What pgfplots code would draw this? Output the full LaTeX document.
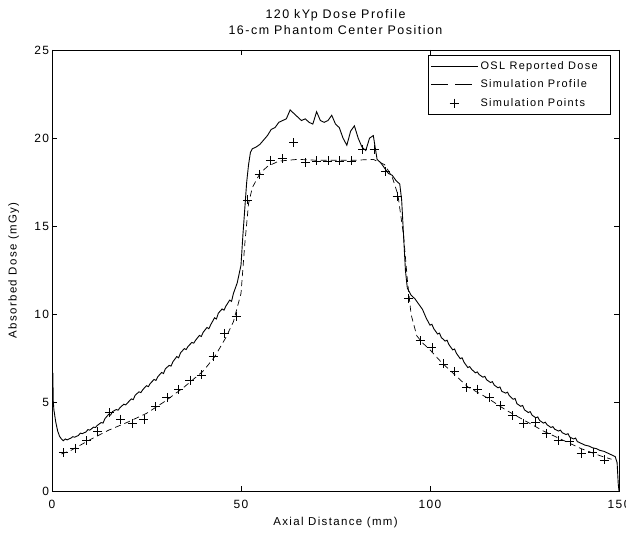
\documentclass[border=0pt]{standalone}
\usepackage{fontspec}
\setmainfont{Liberation Sans}[LetterSpace=12]
\usepackage{pgfplots}
\pgfplotsset{compat=1.18}
\pgfplotsset{
  legsolid/.style={legend image code/.code={\draw[##1] (-2bp,0bp) -- (45bp,0bp);}},
  legdash/.style={legend image code/.code={\draw[##1, dash pattern=on 17bp off 7bp] (-2bp,0bp) -- (45bp,0bp);}},
  legmark/.style={legend image code/.code={\draw[##1] plot coordinates {(21bp,0bp)};}},
}
\begin{document}
\fontsize{11}{13}\selectfont
\begin{tikzpicture}
\begin{axis}[
  scale only axis,
  width=567bp, height=441bp,
  xmin=0, xmax=150, ymin=0, ymax=25,
  xtick={0,50,100,150}, ytick={0,5,10,15,20,25},
  tick align=inside,
  major tick length=5bp,
  axis line style={line width=0.8bp},
  tick style={line width=0.6bp, black},
  /pgf/number format/assume math mode=true,
  tick label style={font=\fontsize{12}{14}\selectfont},
  xticklabel style={yshift=-5bp},
  yticklabel style={xshift=1bp},
  xlabel={Axial Distance (mm)},
  ylabel={Absorbed Dose (mGy)},
  xlabel style={font=\fontsize{11.5}{13}\selectfont, yshift=-1bp},
  ylabel style={font=\fontsize{11.5}{13}\selectfont, yshift=8bp},
  title={120 kYp Dose Profile\\16-cm Phantom Center Position},
  title style={font=\fontsize{12.5}{16}\selectfont, align=center, yshift=6bp},
  legend style={at={(1,1)}, anchor=north east, xshift=-8bp, yshift=-5bp,
    draw=black, line width=0.6bp, font=\fontsize{11}{13}\selectfont,
    inner xsep=2bp, inner ysep=4bp, row sep=5bp, cells={anchor=west}},
  legend cell align=left,
]
\addplot[black, line width=0.9bp, legsolid]
coordinates {
(0.25,6.7)(0.3,5.2)(0.5,4.6)(1,3.9)(1.5,3.4)(2,3.1)(2.5,2.95)(3,2.85)(3.5,2.95)(4,2.9)(5,3.0)
(5.5,3.08)(6,3.05)(7,3.15)(7.5,3.28)(8,3.25)(9,3.35)(9.5,3.48)(10,3.45)(11,3.62)(11.5,3.6)(12,3.72)(13,3.88)(13.5,3.85)(14,4.1)(15,4.35)
(15.5,4.3)(16,4.5)(17,4.62)(17.5,4.58)(18,4.73)(19,4.92)(19.5,4.88)(20,5.0)(21,5.22)(21.5,5.18)(22,5.43)(23,5.62)(23.5,5.58)(24,5.74)(25,5.97)
(25.5,5.92)(26,6.1)(27,6.32)(27.5,6.27)(28,6.48)(29,6.72)(29.5,6.66)(30,6.93)(31,7.12)(31.5,7.08)(32,7.33)(33,7.62)(33.5,7.55)(34,7.83)(35,8.07)
(35.5,8.02)(36,8.2)(37,8.42)(37.5,8.38)(38,8.55)(39,8.82)(39.5,8.76)(40,9.0)(41,9.27)(41.5,9.2)(42,9.43)(43,9.82)(43.5,9.75)(44,10.08)(45,10.32)
(45.5,10.25)(46,10.48)(47,10.82)(47.5,10.75)(48,11.2)(49,11.8)(50,12.8)(50.5,14.5)(51,16.0)(51.5,17.5)(52,18.5)(52.5,19.2)
(53,19.4)(54,19.5)(55,19.65)(56,19.9)(57,20.15)(58,20.5)(59,20.6)(60,20.9)(61,21.0)(62,21.1)
(63,21.6)(64,21.4)(65,21.2)(66,21.0)(67,21.1)(68,20.9)(69,20.8)(70,21.5)(71,21.0)(72,20.9)
(73,21.0)(74,21.3)(75,20.8)(76,20.6)(77,20.0)(78,19.6)(79,20.4)(80,20.7)(81,20.0)(82,19.5)
(83,19.3)(84,20.0)(85,20.15)(86,18.8)(87,18.6)(88,18.3)(89,18.0)(90,17.9)(91,17.6)(92,17.4)
(92.5,16.5)(93,14.5)(93.5,12.5)(94,11.5)(95,11.1)(96,10.9)(97,10.6)(98,10.3)(99,9.8)(100,9.4)
(100.5,9.45)(101,9.2)(102,8.9)(102.5,8.95)(103,8.7)(104,8.5)(104.5,8.55)(105,8.3)(106,8.0)(106.5,8.05)(107,7.8)(108,7.5)(108.5,7.55)(109,7.3)(110,7.0)
(110.5,7.05)(111,6.9)(112,6.7)(112.5,6.75)(113,6.6)(114,6.45)(114.5,6.5)(115,6.3)(116,6.15)(116.5,6.2)(117,6.0)(118,5.85)(118.5,5.9)(119,5.65)(120,5.55)
(120.5,5.6)(121,5.4)(122,5.2)(122.5,5.25)(123,4.95)(124,4.8)(124.5,4.85)(125,4.6)(126,4.45)(126.5,4.5)(127,4.3)(128,4.15)(128.5,4.2)(129,4.0)(130,3.85)
(130.5,3.9)(131,3.75)(132,3.6)(132.5,3.65)(133,3.5)(134,3.4)(134.5,3.45)(135,3.3)(136,3.2)(136.5,3.25)(137,3.05)(138,2.95)(138.5,3.0)(139,2.8)(140,2.7)
(141,2.6)(142,2.55)(143,2.45)(144,2.4)(145,2.3)(146,2.25)(147,2.15)(148,2.05)(149,1.95)(149.5,1.6)
(149.8,0.4)(150,0)
};
\addlegendentry{OSL Reported Dose\hspace*{9bp}}
\addplot[black, line width=0.7bp, dash pattern=on 6bp off 4bp, legdash]
coordinates {
(2.5,2.1)(5,2.3)(10,2.9)(15,3.45)(20,3.9)(25,4.4)(30,5.1)(35,5.9)(40,6.8)(43,7.6)
(46,8.7)(48,9.6)(50,11.2)(51,14)(52,16.3)(53,17.2)(55,18.0)(57,18.4)(60,18.7)(65,18.8)
(70,18.75)(75,18.75)(80,18.75)(85,18.8)(88,18.5)(90,17.8)(91.5,16.8)(93,14.5)(94,12)(95,10)
(96.5,8.8)(98,8.4)(100,8.0)(103,7.3)(106,6.7)(110,5.9)(115,5.3)(120,4.6)(125,4.0)(130,3.4)
(135,2.9)(140,2.4)(145,2.0)(148,1.8)
};
\addlegendentry{Simulation Profile}
\addplot[black, only marks, mark=+, mark size=4.5bp, line width=0.7bp, legmark]
coordinates {
(3.0,2.17)(6.05,2.42)(9.1,2.85)(12.1,3.36)(15.2,4.44)(18.2,4.08)(21.3,3.84)(24.3,4.08)
(27.4,4.78)(30.4,5.31)(33.5,5.76)(36.5,6.29)(39.5,6.58)(42.6,7.62)(45.6,8.94)(48.7,9.92)
(51.7,16.5)(54.8,17.95)(57.8,18.76)(60.9,18.84)(63.9,19.75)(67.0,18.63)(70.0,18.71)(73.0,18.71)
(76.1,18.71)(79.1,18.71)(82.2,19.37)(85.2,19.37)(88.2,18.1)(91.3,16.72)(94.4,10.92)(97.4,8.52)
(100.5,8.14)(103.5,7.2)(106.5,6.77)(109.6,5.88)(112.6,5.77)(115.7,5.29)(118.7,4.84)(121.8,4.27)
(124.8,3.84)(127.8,3.89)(130.9,3.27)(133.9,2.89)(137.0,2.8)(140.0,2.14)(143.1,2.17)(146.1,1.76)
};
\addlegendentry{Simulation Points}
\end{axis}
\pgfresetboundingbox
\useasboundingbox (-52bp,-42bp) rectangle (574bp,491bp);
\end{tikzpicture}
\end{document}
